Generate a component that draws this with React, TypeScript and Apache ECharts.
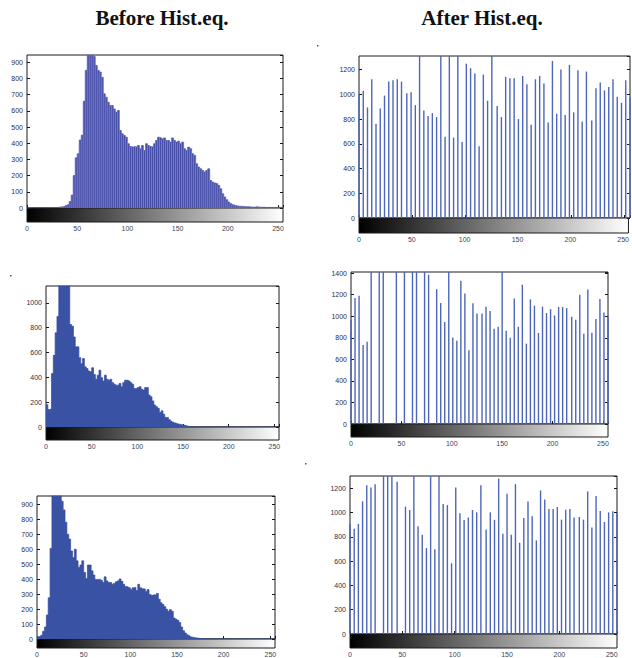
import React, { useEffect, useRef } from 'react';
import * as echarts from 'echarts';

// ---------- DATA ----------
const TITLES = ['Before Hist.eq.', 'After Hist.eq.'];
const X_TICKS = [0, 50, 100, 150, 200, 250];
const BIN_WIDTH = 2; // gray levels per bin for the "before" histograms

// Before histograms: counts per 2-gray-level bin (bins start at 0,2,4,...,254)
const BEFORE_1 = [
  0, 0, 0, 0, 0, 0, 0, 0, 0, 0, 1, 1, 2, 2, 3,
  5, 6, 8, 10, 15, 20, 40, 80, 200, 310, 335, 420, 450, 660, 850,
  980, 990, 985, 935, 880, 850, 840, 807, 705, 684, 653, 633, 633, 612, 592,
  602, 479, 458, 448, 437, 397, 380, 376, 380, 376, 386, 366, 386, 355, 397,
  386, 380, 376, 397, 417, 437, 433, 427, 433, 417, 417, 407, 433, 417, 407,
  413, 397, 407, 366, 355, 376, 366, 335, 325, 273, 253, 242, 232, 222, 232,
  242, 170, 160, 154, 150, 140, 119, 88, 68, 51, 37, 27, 20, 16, 12,
  11, 10, 9, 8, 8, 7, 6, 5, 6, 8, 5, 4, 5, 4, 3,
  4, 3, 3, 2, 3, 5, 2, 1,
];
const BEFORE_2 = [
  180, 140, 145, 430, 577, 758, 890, 1150, 1160, 1170, 1165, 1160, 1150, 825, 812,
  725, 645, 645, 558, 510, 551, 484, 470, 450, 444, 477, 423, 384, 417, 457,
  397, 370, 417, 384, 377, 384, 357, 344, 337, 337, 350, 324, 357, 377, 377,
  370, 357, 344, 310, 310, 317, 324, 304, 297, 317, 317, 257, 244, 210, 177,
  163, 150, 117, 130, 103, 77, 77, 59, 47, 39, 32, 27, 23, 20, 16,
  14, 10, 5, 2, 1,
  0, 0, 0, 0, 0, 0, 0, 0, 0, 0, 0, 0, 0, 0, 0, 0,
  0, 0, 0, 0, 0, 0, 0, 0, 0, 0, 0, 0, 0, 0, 0, 0,
  0, 0, 0, 0, 0, 0, 0, 0, 0, 0, 0, 0, 0, 0, 0, 0,
];
const BEFORE_3 = [
  15, 18, 25, 51, 80, 160, 275, 605, 980, 990, 1000, 990, 985, 920, 862,
  780, 700, 667, 588, 544, 600, 522, 477, 494, 522, 444, 404, 494, 494, 455,
  427, 398, 398, 398, 393, 377, 415, 388, 377, 377, 366, 371, 382, 388, 401,
  385, 365, 350, 348, 342, 331, 342, 345, 324, 365, 342, 335, 334, 318, 330,
  298, 292, 296, 292, 304, 266, 242, 231, 216, 198, 186, 196, 185, 140, 132,
  125, 110, 80, 55, 40, 28, 22, 14, 10, 8, 6, 4, 3, 2, 1,
  0, 0, 0, 0, 0, 0, 0, 0, 0, 0, 0, 0, 0, 0, 0, 0, 0, 0, 0,
  0, 0, 0, 0, 0, 0, 0, 0, 0, 0, 0, 0, 0, 0, 0, 0, 0, 0, 0,
];

// After histograms: output gray levels and counts
const AFTER_1_LEVELS = [
  0, 4, 8, 12, 16, 20, 24, 28, 32, 36, 40, 45, 49, 53, 57, 61, 65, 69, 73, 77, 81, 85, 89, 93, 97, 101,
  105, 109, 113, 117, 121, 125, 130, 134, 138, 142, 146, 150, 154, 158, 162, 166, 170, 174, 178, 182,
  186, 190, 194, 198, 202, 206, 210, 214, 219, 223, 227, 231, 235, 239, 243, 247, 251, 255,
];
const AFTER_1 = [
  1000, 1030, 894, 1122, 762, 886, 990, 1103, 1114, 1122, 1103, 1009, 1017, 913, 1650, 870, 824, 848,
  816, 1800, 658, 1700, 650, 1900, 615, 1248, 1211, 1168, 580, 1160, 948, 1600, 905, 816, 1141, 1130,
  1130, 800, 1149, 1082, 754, 1122, 1149, 1087, 773, 1270, 843, 1200, 832, 1238, 854, 1195, 781, 1184,
  789, 1050, 1095, 1031, 1060, 1122, 980, 932, 1114, 975,
];
const AFTER_2_LEVELS = [
  0, 4, 8, 12, 16, 20, 28, 32, 45, 53, 61, 65, 73, 77, 85, 89, 93, 97, 101, 105, 109, 113, 117, 121,
  125, 130, 134, 138, 142, 146, 150, 154, 158, 162, 166, 170, 174, 178, 182, 186, 190, 194, 198, 202,
  206, 210, 214, 219, 223, 227, 231, 235, 239, 243, 247, 251, 255,
];
const AFTER_2 = [
  967, 1168, 1190, 732, 763, 1800, 2100, 1900, 2600, 1700, 2200, 1650, 1750, 1384, 1251, 1122, 946,
  1600, 803, 773, 1329, 1211, 683, 1119, 1026, 1026, 1088, 1048, 884, 902, 1550, 865, 800, 1165, 902,
  1292, 745, 1156, 1097, 844, 1088, 1029, 1066, 1007, 1085, 1085, 1075, 995, 967, 1199, 837, 1248, 847,
  973, 1159, 1035, 998,
];
const AFTER_3_LEVELS = [
  0, 4, 8, 12, 16, 20, 24, 32, 36, 40, 45, 53, 57, 61, 65, 69, 73, 77, 81, 85, 89, 93, 97, 101, 105,
  109, 113, 117, 121, 125, 130, 134, 138, 142, 146, 150, 154, 158, 162, 166, 170, 174, 178, 182, 186,
  190, 194, 198, 202, 206, 210, 214, 219, 223, 227, 231, 235, 239, 243, 247, 251, 255,
];
const AFTER_3 = [
  906, 865, 906, 1091, 1224, 1205, 1233, 1700, 1850, 1600, 1252, 1048, 1020, 1500, 887, 816, 707, 1550,
  697, 1450, 1069, 1061, 582, 1205, 993, 939, 958, 1020, 1001, 1224, 860, 1001, 939, 1279, 824, 1154,
  816, 1233, 751, 955, 1091, 969, 770, 1181, 1107, 1029, 1029, 1045, 941, 1023, 1029, 958, 963, 941,
  1173, 876, 1135, 1012, 922, 1001, 1010, 993,
];

// ---------- LAYOUT ----------
type Panel = {
  kind: 'hist' | 'stem';
  values: number[];
  levels?: number[];
  ymax: number;
  yint: number;
  left: number;
  top: number;
  width: number;
  height: number;
  cbar: number;
  color: string;
  stripe?: string;
};

const PANELS: Panel[] = [
  { kind: 'hist', values: BEFORE_1, ymax: 945, yint: 100, left: 27, top: 55, width: 256, height: 153, cbar: 14, color: '#7a7fc6', stripe: '#474ea8' },
  { kind: 'stem', values: AFTER_1, levels: AFTER_1_LEVELS, ymax: 1310, yint: 200, left: 359, top: 56, width: 271, height: 162, cbar: 15, color: '#4d66ba' },
  { kind: 'hist', values: BEFORE_2, ymax: 1135, yint: 200, left: 46, top: 286, width: 233, height: 141, cbar: 13, color: '#3a52a3' },
  { kind: 'stem', values: AFTER_2, levels: AFTER_2_LEVELS, ymax: 1410, yint: 200, left: 351, top: 272, width: 257, height: 152, cbar: 13, color: '#4d66ba' },
  { kind: 'hist', values: BEFORE_3, ymax: 955, yint: 100, left: 37, top: 496, width: 238, height: 143, cbar: 13, color: '#3a52a3' },
  { kind: 'stem', values: AFTER_3, levels: AFTER_3_LEVELS, ymax: 1300, yint: 200, left: 350, top: 476, width: 267, height: 158, cbar: 14, color: '#4d66ba' },
];

// tiny specks present in the scanned figure
const SPECKS = [
  [317, 45],
  [10, 275],
  [305, 463],
];

const LABEL_FONT = 'Liberation Sans, Arial, sans-serif';

function buildOption() {
  const grid: any[] = [];
  const xAxis: any[] = [];
  const yAxis: any[] = [];
  const series: any[] = [];

  PANELS.forEach((p, i) => {
    const g = i * 2;
    grid.push({
      left: p.left, top: p.top, width: p.width, height: p.height,
      show: true, backgroundColor: '#fff', borderColor: '#1a1a1a', borderWidth: 1,
    });
    grid.push({
      left: p.left, top: p.top + p.height, width: p.width, height: p.cbar,
      show: true,
      backgroundColor: new echarts.graphic.LinearGradient(0, 0, 1, 0, [
        { offset: 0, color: '#000000' },
        { offset: 1, color: '#ffffff' },
      ]),
      borderColor: '#1a1a1a', borderWidth: 1,
    });
    // main x axis (ticks only)
    xAxis.push({
      type: 'value', gridIndex: g, min: 0, max: 255, interval: 50, position: 'bottom',
      axisLine: { show: false }, axisLabel: { show: false },
      axisTick: { show: true, inside: true, length: 3, lineStyle: { color: '#1a1a1a' } },
      splitLine: { show: false },
    });
    // colorbar x axis (labels)
    xAxis.push({
      type: 'value', gridIndex: g + 1, min: 0, max: 255, interval: 50, position: 'bottom',
      axisLine: { show: false }, axisTick: { show: false }, splitLine: { show: false },
      axisLabel: {
        show: true, fontSize: 7, color: '#3a3f55', margin: 3, fontFamily: LABEL_FONT,
        showMaxLabel: false,
        formatter: (v: number) => (X_TICKS.includes(v) ? String(v) : ''),
      },
    });
    const yBase = {
      type: 'value', gridIndex: g, min: 0, max: p.ymax, interval: p.yint,
      axisLine: { show: false }, splitLine: { show: false },
      axisTick: { show: true, inside: true, length: 3, lineStyle: { color: '#1a1a1a' } },
    };
    yAxis.push({
      ...yBase, position: 'left',
      axisLabel: {
        show: true, fontSize: 7, color: '#2a2d40', margin: 4, fontFamily: LABEL_FONT,
        showMaxLabel: p.ymax % p.yint === 0,
        formatter: (v: number) => (v % p.yint === 0 ? String(v) : ''),
      },
    });
    yAxis.push({ ...yBase, position: 'right', axisLabel: { show: false } });
    yAxis.push({ type: 'value', gridIndex: g + 1, min: 0, max: 1, show: false });

    if (p.kind === 'hist') {
      const pts = p.values.map((v, k) => [k * BIN_WIDTH, v]);
      pts.push([p.values.length * BIN_WIDTH, p.values[p.values.length - 1]]);
      series.push({
        type: 'line', xAxisIndex: g, yAxisIndex: i * 3, step: 'end', symbol: 'none',
        data: pts, clip: true,
        lineStyle: { width: 0.7, color: p.stripe ? '#5a5fb3' : '#34499a' },
        areaStyle: { color: p.color, opacity: 1 },
        z: 1,
      });
      if (p.stripe) {
        series.push({
          type: 'bar', xAxisIndex: g, yAxisIndex: i * 3, barWidth: 1.1, clip: true,
          data: p.values.map((v, k) => [k * BIN_WIDTH + BIN_WIDTH / 2, v]),
          itemStyle: { color: p.stripe },
          z: 2,
        });
      }
    } else {
      series.push({
        type: 'bar', xAxisIndex: g, yAxisIndex: i * 3, barWidth: 1.4, clip: true,
        data: (p.levels as number[]).map((l, k) => [l, p.values[k]]),
        itemStyle: { color: p.color },
        z: 1,
      });
    }
  });

  const titleFont = 'bold 21px "Liberation Serif", "Times New Roman", serif';
  return {
    animation: false,
    backgroundColor: '#ffffff',
    grid, xAxis, yAxis, series,
    graphic: [
      { type: 'text', x: 162, y: 18, style: { text: TITLES[0], font: titleFont, fill: '#111', textAlign: 'center', textVerticalAlign: 'middle' } },
      { type: 'text', x: 482, y: 18, style: { text: TITLES[1], font: titleFont, fill: '#111', textAlign: 'center', textVerticalAlign: 'middle' } },
      ...SPECKS.map(([x, y]) => ({ type: 'rect', shape: { x, y, width: 1.5, height: 1.5 }, style: { fill: '#555' } })),
    ],
  };
}

export default function App() {
  const ref = useRef<HTMLDivElement>(null);
  useEffect(() => {
    if (!ref.current) return;
    const chart = echarts.init(ref.current, undefined, { renderer: 'svg' });
    chart.setOption(buildOption() as any);
    return () => chart.dispose();
  }, []);
  return (
    <div
      ref={ref}
      style={{ position: 'absolute', left: 0, top: 0, width: 632, height: 658, background: '#fff' }}
    />
  );
}
